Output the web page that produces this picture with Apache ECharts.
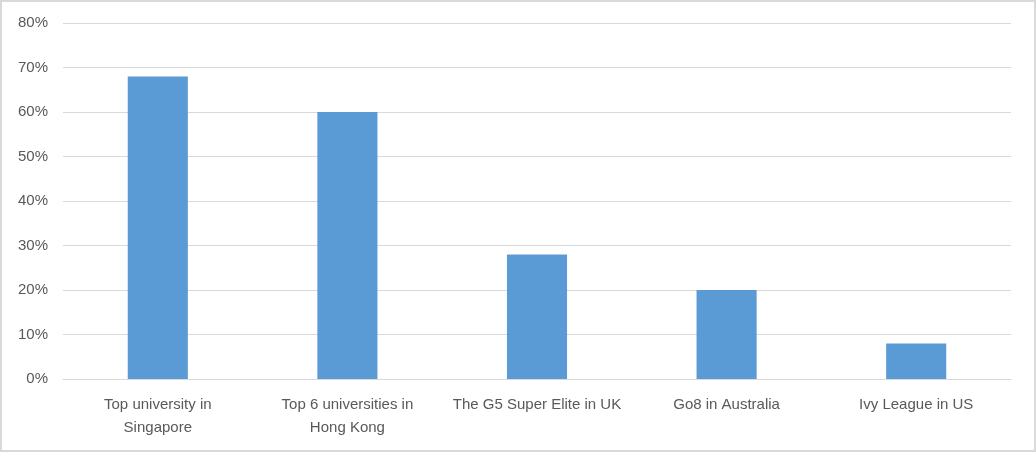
<!DOCTYPE html>
<html><head><meta charset="utf-8">
<script src="https://cdn.jsdelivr.net/npm/echarts@6/dist/echarts.min.js"></script>
<style>html,body{margin:0;padding:0;background:#fff}#c{width:1032px;height:448px;border:2px solid #d9d9d9}</style>
</head><body><div id="c"></div>
<script>
const categories = ["Top university in\nSingapore", "Top 6 universities in\nHong Kong", "The G5 Super Elite in UK", "Go8 in Australia", "Ivy League in US"];
const values = [68, 60, 28, 20, 8];
const yTicks = [0, 10, 20, 30, 40, 50, 60, 70, 80];

const chart = echarts.init(document.getElementById('c'), null, {renderer: 'canvas'});
chart.setOption({
  animation: false,
  grid: {left: 61, right: 23, top: 21, bottom: 71},
  xAxis: {
    type: 'category', data: categories,
    axisLine: {lineStyle: {color: '#d9d9d9', width: 1}},
    axisTick: {show: false},
    axisLabel: {color: '#595959', fontFamily: 'Liberation Sans, Arial', fontSize: 15, lineHeight: 23, margin: 14, interval: 0}
  },
  yAxis: {
    type: 'value', min: yTicks[0], max: yTicks[yTicks.length - 1], interval: 10,
    axisLine: {show: false}, axisTick: {show: false},
    splitLine: {lineStyle: {color: '#d9d9d9', width: 1}},
    axisLabel: {color: '#595959', fontFamily: 'Liberation Sans, Arial', fontSize: 15, margin: 15, formatter: v => v + '%'}
  },
  series: [{
    type: 'bar', data: values, barWidth: '31.7%',
    itemStyle: {color: '#5b9bd5'}
  }]
});
</script></body></html>
